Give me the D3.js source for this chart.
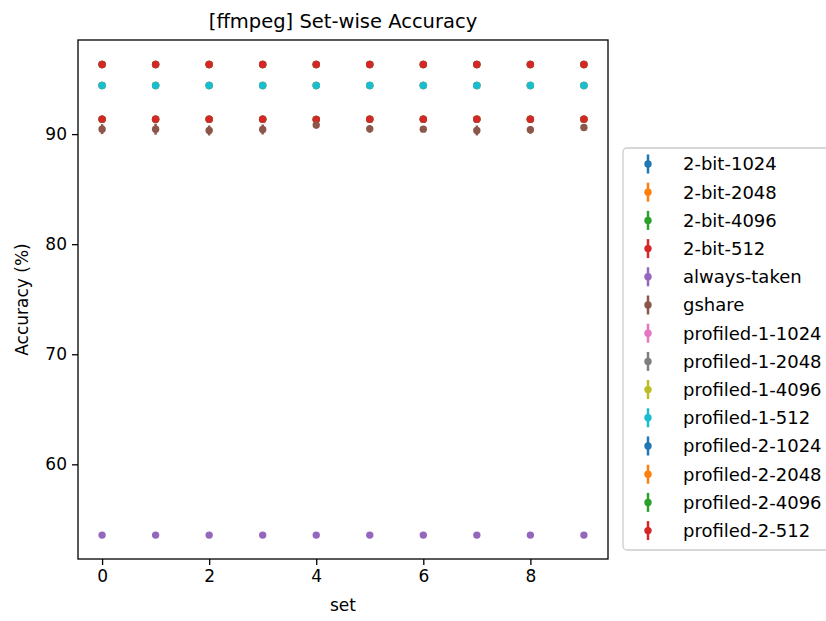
<!DOCTYPE html>
<html>
<head>
<meta charset="utf-8">
<script src="https://cdn.jsdelivr.net/npm/d3@7"></script>
<style>
  body { margin: 0; background: #fff; }
  text { font-family: "DejaVu Sans", sans-serif; fill: #000; }
</style>
</head>
<body>
<div class="chart"></div>
<script>
var svgWidth = 826;
var svgHeight = 621;

var margin = { top: 40, right: 218, bottom: 62, left: 78 };
var width = svgWidth - margin.left - margin.right;
var height = svgHeight - margin.top - margin.bottom;

// data
var sets = [0, 1, 2, 3, 4, 5, 6, 7, 8, 9];
var seriesNames = ["2-bit-1024", "2-bit-2048", "2-bit-4096", "2-bit-512", "always-taken", "gshare",
  "profiled-1-1024", "profiled-1-2048", "profiled-1-4096", "profiled-1-512",
  "profiled-2-1024", "profiled-2-2048", "profiled-2-4096", "profiled-2-512"];
var colors = ["#1f77b4", "#ff7f0e", "#2ca02c", "#d62728", "#9467bd", "#8c564b", "#e377c2",
  "#7f7f7f", "#bcbd22", "#17becf", "#1f77b4", "#ff7f0e", "#2ca02c", "#d62728"];

var twoBit1024 = [91.34, 91.34, 91.34, 91.34, 91.33, 91.34, 91.34, 91.34, 91.34, 91.34];
var twoBit2048 = [91.35, 91.35, 91.35, 91.35, 91.34, 91.35, 91.35, 91.35, 91.35, 91.35];
var twoBit4096 = [91.35, 91.35, 91.35, 91.35, 91.34, 91.35, 91.35, 91.35, 91.35, 91.35];
var twoBit512 = [91.36, 91.36, 91.36, 91.36, 91.33, 91.36, 91.36, 91.36, 91.36, 91.36];
var alwaysTaken = [53.57, 53.57, 53.57, 53.57, 53.57, 53.57, 53.57, 53.57, 53.57, 53.57];
var gshare = [90.45, 90.45, 90.33, 90.42, 90.82, 90.48, 90.45, 90.33, 90.39, 90.60];
var gshareErr = [0.45, 0.50, 0.45, 0.45, 0.30, 0.35, 0.25, 0.45, 0.35, 0.30];
var profiled1_1024 = [94.41, 94.41, 94.41, 94.41, 94.41, 94.41, 94.41, 94.41, 94.41, 94.41];
var profiled1_2048 = [94.42, 94.42, 94.42, 94.42, 94.42, 94.42, 94.42, 94.42, 94.42, 94.42];
var profiled1_4096 = [94.42, 94.42, 94.42, 94.42, 94.42, 94.42, 94.42, 94.42, 94.42, 94.42];
var profiled1_512 = [94.42, 94.42, 94.42, 94.42, 94.42, 94.42, 94.42, 94.42, 94.42, 94.42];
var profiled2_1024 = [96.32, 96.32, 96.32, 96.32, 96.32, 96.32, 96.32, 96.32, 96.32, 96.32];
var profiled2_2048 = [96.33, 96.33, 96.33, 96.33, 96.33, 96.33, 96.33, 96.33, 96.33, 96.33];
var profiled2_4096 = [96.33, 96.33, 96.33, 96.33, 96.33, 96.33, 96.33, 96.33, 96.33, 96.33];
var profiled2_512 = [96.33, 96.33, 96.33, 96.33, 96.33, 96.33, 96.33, 96.33, 96.33, 96.33];
var zeroErr = [0, 0, 0, 0, 0, 0, 0, 0, 0, 0];

var seriesValues = [twoBit1024, twoBit2048, twoBit4096, twoBit512, alwaysTaken, gshare,
  profiled1_1024, profiled1_2048, profiled1_4096, profiled1_512,
  profiled2_1024, profiled2_2048, profiled2_4096, profiled2_512];
var seriesErrs = [zeroErr, zeroErr, zeroErr, zeroErr, zeroErr, gshareErr,
  zeroErr, zeroErr, zeroErr, zeroErr, zeroErr, zeroErr, zeroErr, zeroErr];

var xTicks = [0, 2, 4, 6, 8];
var yTicks = [60, 70, 80, 90];

var svg = d3.select(".chart")
  .append("svg")
  .attr("width", svgWidth)
  .attr("height", svgHeight);

var chartGroup = svg.append("g")
  .attr("transform", `translate(${margin.left}, ${margin.top})`);

var xScale = d3.scaleLinear().domain([-0.45, 9.45]).range([0, width]);
var yScale = d3.scaleLinear().domain([51.4, 98.55]).range([height, 0]);

// series: error bars then dots, in plotting order
seriesNames.forEach(function (name, i) {
  var g = chartGroup.append("g");
  var pts = sets.map((s, j) => ({ x: s, y: seriesValues[i][j], e: seriesErrs[i][j] }));
  g.selectAll("line")
    .data(pts.filter(d => d.e > 0))
    .enter()
    .append("line")
    .attr("x1", d => xScale(d.x))
    .attr("x2", d => xScale(d.x))
    .attr("y1", d => yScale(d.y - d.e))
    .attr("y2", d => yScale(d.y + d.e))
    .attr("stroke", colors[i])
    .attr("stroke-width", 2.5);
  g.selectAll("circle")
    .data(pts)
    .enter()
    .append("circle")
    .attr("cx", d => xScale(d.x))
    .attr("cy", d => yScale(d.y))
    .attr("r", 3.7)
    .attr("fill", colors[i]);
});

// axes
var xAxis = chartGroup.append("g")
  .attr("transform", `translate(0,${height})`)
  .call(d3.axisBottom(xScale).tickValues(xTicks).tickSize(6).tickPadding(5).tickSizeOuter(0));
var yAxis = chartGroup.append("g")
  .call(d3.axisLeft(yScale).tickValues(yTicks).tickSize(6).tickPadding(5).tickSizeOuter(0));

[xAxis, yAxis].forEach(function (ax) {
  ax.select(".domain").remove();
  ax.selectAll("line").attr("stroke", "#000").attr("stroke-width", 1.3);
  ax.selectAll("text")
    .style("font-family", "DejaVu Sans")
    .style("font-size", "17px")
    .attr("fill", "#000");
});

chartGroup.append("rect")
  .attr("width", width)
  .attr("height", height)
  .attr("fill", "none")
  .attr("stroke", "#000")
  .attr("stroke-width", 1.3);

// labels
svg.append("text")
  .attr("x", margin.left + width / 2)
  .attr("y", 28)
  .attr("text-anchor", "middle")
  .style("font-size", "19.5px")
  .text("[ffmpeg] Set-wise Accuracy");

svg.append("text")
  .attr("x", margin.left + width / 2)
  .attr("y", 611)
  .attr("text-anchor", "middle")
  .style("font-size", "17px")
  .text("set");

svg.append("text")
  .attr("transform", `translate(28, ${margin.top + height / 2}) rotate(-90)`)
  .attr("text-anchor", "middle")
  .style("font-size", "17px")
  .text("Accuracy (%)");

// legend
var legend = svg.append("g").attr("transform", "translate(623, 148)");
legend.append("rect")
  .attr("width", 260)
  .attr("height", 402)
  .attr("rx", 4)
  .attr("fill", "#fff")
  .attr("stroke", "#ccc")
  .attr("stroke-width", 1.3);

var items = legend.selectAll("g.item")
  .data(seriesNames)
  .enter()
  .append("g")
  .attr("class", "item")
  .attr("transform", (d, i) => `translate(25, ${16 + i * 28.2})`);

items.append("line")
  .attr("y1", -9.5)
  .attr("y2", 9.5)
  .attr("stroke", (d, i) => colors[i])
  .attr("stroke-width", 2.5);
items.append("circle")
  .attr("r", 3.7)
  .attr("fill", (d, i) => colors[i]);
items.append("text")
  .attr("x", 35)
  .attr("dy", "0.36em")
  .style("font-size", "18px")
  .text(d => d);
</script>
</body>
</html>
